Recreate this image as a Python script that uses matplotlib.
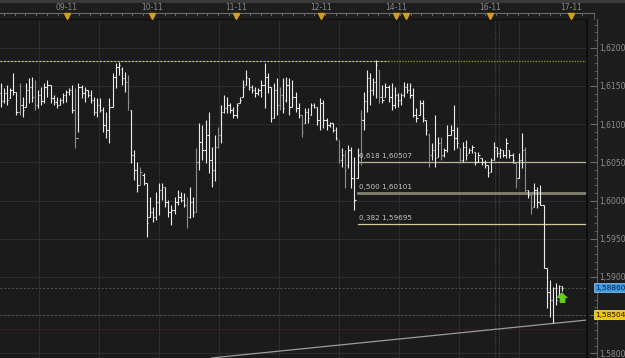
import numpy as np
import matplotlib.pyplot as plt
from matplotlib.collections import LineCollection
from matplotlib.lines import Line2D
from matplotlib.patches import Rectangle
from matplotlib.ticker import MultipleLocator, FuncFormatter
import matplotlib.transforms as mtrans

# OHLC bars (left to right)
high = [1.6154, 1.6147, 1.6151, 1.6147, 1.6167, 1.6142, 1.6154, 1.6135, 1.6154, 1.6160,
        1.6162, 1.6158, 1.6145, 1.6149, 1.6154, 1.6158, 1.6151, 1.6138, 1.6135, 1.6134,
        1.6141, 1.6145, 1.6147, 1.6151, 1.6147, 1.6154, 1.6151, 1.6149, 1.6145, 1.6145,
        1.6135, 1.6134, 1.6134, 1.6122, 1.6116, 1.6134, 1.6167, 1.6180, 1.6181, 1.6175,
        1.6168, 1.6164, 1.6118, 1.6066, 1.6050, 1.6044, 1.6036, 1.6023, 1.6004, 1.5991,
        1.6011, 1.6023, 1.6023, 1.6018, 1.6001, 1.5994, 1.6004, 1.6014, 1.6011, 1.6010,
        1.6004, 1.6018, 1.6004, 1.6069, 1.6101, 1.6099, 1.6105, 1.6116, 1.6070, 1.6086,
        1.6096, 1.6125, 1.6138, 1.6135, 1.6128, 1.6122, 1.6128, 1.6135, 1.6158, 1.6171,
        1.6160, 1.6151, 1.6149, 1.6147, 1.6158, 1.6180, 1.6167, 1.6149, 1.6154, 1.6160,
        1.6149, 1.6160, 1.6162, 1.6160, 1.6158, 1.6142, 1.6128, 1.6112, 1.6121, 1.6121,
        1.6128, 1.6128, 1.6122, 1.6134, 1.6132, 1.6108, 1.6103, 1.6101, 1.6096, 1.6079,
        1.6069, 1.6066, 1.6073, 1.6070, 1.6057, 1.6069, 1.6118, 1.6142, 1.6171, 1.6167,
        1.6160, 1.6184, 1.6171, 1.6151, 1.6154, 1.6151, 1.6154, 1.6149, 1.6141, 1.6141,
        1.6155, 1.6154, 1.6154, 1.6147, 1.6121, 1.6132, 1.6132, 1.6105, 1.6088, 1.6075,
        1.6112, 1.6083, 1.6083, 1.6069, 1.6099, 1.6099, 1.6125, 1.6096, 1.6069, 1.6077,
        1.6079, 1.6069, 1.6073, 1.6063, 1.6063, 1.6056, 1.6053, 1.6046, 1.6056, 1.6077,
        1.6070, 1.6069, 1.6066, 1.6082, 1.6066, 1.6062, 1.6049, 1.6062, 1.6088, 1.6070,
        1.6014, 1.6011, 1.6023, 1.6018, 1.6020, 1.5994, 1.5912, 1.5896, 1.5887, 1.5892,
        1.5889, 1.5888]
low = [1.6122, 1.6128, 1.6125, 1.6134, 1.6138, 1.6112, 1.6112, 1.6109, 1.6122, 1.6128,
       1.6129, 1.6118, 1.6121, 1.6125, 1.6128, 1.6135, 1.6128, 1.6125, 1.6121, 1.6125,
       1.6128, 1.6129, 1.6138, 1.6115, 1.6069, 1.6090, 1.6134, 1.6129, 1.6135, 1.6128,
       1.6112, 1.6109, 1.6116, 1.6090, 1.6082, 1.6075, 1.6122, 1.6147, 1.6164, 1.6151,
       1.6142, 1.6118, 1.6049, 1.6027, 1.6011, 1.6020, 1.6020, 1.5952, 1.5978, 1.5972,
       1.5974, 1.5981, 1.6001, 1.5991, 1.5978, 1.5968, 1.5983, 1.5994, 1.5998, 1.5991,
       1.5964, 1.5977, 1.5978, 1.5985, 1.6040, 1.6053, 1.6049, 1.6036, 1.6018, 1.6025,
       1.6069, 1.6075, 1.6115, 1.6115, 1.6115, 1.6108, 1.6108, 1.6128, 1.6135, 1.6151,
       1.6145, 1.6141, 1.6135, 1.6138, 1.6135, 1.6121, 1.6141, 1.6103, 1.6108, 1.6112,
       1.6118, 1.6115, 1.6129, 1.6112, 1.6122, 1.6116, 1.6108, 1.6083, 1.6101, 1.6101,
       1.6112, 1.6121, 1.6099, 1.6092, 1.6095, 1.6092, 1.6096, 1.6090, 1.6079, 1.6049,
       1.6044, 1.6016, 1.6043, 1.6016, 1.5987, 1.6029, 1.6046, 1.6092, 1.6116, 1.6125,
       1.6138, 1.6134, 1.6128, 1.6128, 1.6135, 1.6129, 1.6118, 1.6121, 1.6122, 1.6125,
       1.6135, 1.6141, 1.6134, 1.6109, 1.6103, 1.6112, 1.6103, 1.6086, 1.6044, 1.6053,
       1.6044, 1.6057, 1.6053, 1.6057, 1.6063, 1.6086, 1.6066, 1.6069, 1.6049, 1.6050,
       1.6053, 1.6062, 1.6062, 1.6046, 1.6050, 1.6046, 1.6043, 1.6031, 1.6037, 1.6053,
       1.6057, 1.6056, 1.6057, 1.6056, 1.6056, 1.6049, 1.6016, 1.6029, 1.6043, 1.6011,
       1.6003, 1.5983, 1.5991, 1.5990, 1.5994, 1.5912, 1.5859, 1.5847, 1.5840, 1.5863,
       1.5876, 1.5881]
opn = [1.6141, 1.6130, 1.6141, 1.6134, 1.6145, 1.6142, 1.6116, 1.6125, 1.6122, 1.6145,
       1.6149, 1.6135, 1.6125, 1.6138, 1.6130, 1.6149, 1.6151, 1.6134, 1.6129, 1.6125,
       1.6132, 1.6138, 1.6142, 1.6145, 1.6118, 1.6082, 1.6149, 1.6141, 1.6145, 1.6138,
       1.6132, 1.6116, 1.6125, 1.6118, 1.6099, 1.6092, 1.6122, 1.6162, 1.6175, 1.6172,
       1.6160, 1.6155, 1.6118, 1.6060, 1.6040, 1.6020, 1.6033, 1.6023, 1.5978, 1.5985,
       1.5978, 1.5998, 1.6014, 1.6018, 1.5998, 1.5985, 1.5987, 1.5998, 1.6004, 1.6001,
       1.5994, 1.5978, 1.5998, 1.5985, 1.6050, 1.6077, 1.6066, 1.6086, 1.6053, 1.6040,
       1.6070, 1.6086, 1.6116, 1.6121, 1.6125, 1.6118, 1.6112, 1.6128, 1.6135, 1.6151,
       1.6160, 1.6149, 1.6145, 1.6141, 1.6145, 1.6151, 1.6162, 1.6149, 1.6108, 1.6145,
       1.6125, 1.6138, 1.6132, 1.6151, 1.6122, 1.6135, 1.6121, 1.6112, 1.6101, 1.6116,
       1.6112, 1.6125, 1.6122, 1.6105, 1.6128, 1.6105, 1.6099, 1.6101, 1.6092, 1.6079,
       1.6053, 1.6060, 1.6046, 1.6066, 1.6030, 1.6029, 1.6060, 1.6105, 1.6130, 1.6160,
       1.6145, 1.6155, 1.6171, 1.6135, 1.6135, 1.6149, 1.6135, 1.6125, 1.6138, 1.6132,
       1.6138, 1.6149, 1.6145, 1.6138, 1.6112, 1.6112, 1.6128, 1.6105, 1.6086, 1.6060,
       1.6066, 1.6057, 1.6075, 1.6060, 1.6066, 1.6086, 1.6092, 1.6082, 1.6069, 1.6053,
       1.6070, 1.6062, 1.6066, 1.6063, 1.6050, 1.6056, 1.6050, 1.6046, 1.6037, 1.6053,
       1.6070, 1.6062, 1.6066, 1.6060, 1.6066, 1.6060, 1.6049, 1.6030, 1.6053, 1.6066,
       1.6014, 1.6007, 1.5991, 1.6014, 1.5998, 1.5994, 1.5912, 1.5880, 1.5870, 1.5885,
       1.5876, 1.5888]
close = [1.6130, 1.6141, 1.6132, 1.6145, 1.6142, 1.6116, 1.6125, 1.6118, 1.6145, 1.6149,
         1.6135, 1.6125, 1.6138, 1.6130, 1.6149, 1.6151, 1.6134, 1.6129, 1.6125, 1.6132,
         1.6138, 1.6142, 1.6145, 1.6118, 1.6082, 1.6149, 1.6141, 1.6145, 1.6138, 1.6132,
         1.6116, 1.6125, 1.6118, 1.6099, 1.6092, 1.6122, 1.6162, 1.6175, 1.6177, 1.6160,
         1.6155, 1.6129, 1.6060, 1.6040, 1.6020, 1.6037, 1.6023, 1.5970, 1.5985, 1.5978,
         1.5998, 1.6014, 1.6018, 1.5998, 1.5985, 1.5987, 1.5998, 1.6004, 1.6001, 1.5994,
         1.5978, 1.5998, 1.5985, 1.6050, 1.6077, 1.6066, 1.6086, 1.6053, 1.6040, 1.6070,
         1.6086, 1.6116, 1.6121, 1.6125, 1.6118, 1.6112, 1.6125, 1.6132, 1.6149, 1.6162,
         1.6149, 1.6145, 1.6141, 1.6145, 1.6151, 1.6162, 1.6149, 1.6108, 1.6145, 1.6125,
         1.6138, 1.6121, 1.6151, 1.6122, 1.6135, 1.6121, 1.6112, 1.6090, 1.6116, 1.6108,
         1.6125, 1.6122, 1.6105, 1.6128, 1.6105, 1.6099, 1.6101, 1.6092, 1.6082, 1.6053,
         1.6060, 1.6040, 1.6066, 1.6030, 1.6001, 1.6060, 1.6105, 1.6130, 1.6160, 1.6145,
         1.6155, 1.6177, 1.6135, 1.6132, 1.6149, 1.6135, 1.6125, 1.6138, 1.6132, 1.6138,
         1.6149, 1.6145, 1.6138, 1.6112, 1.6108, 1.6128, 1.6108, 1.6092, 1.6060, 1.6066,
         1.6056, 1.6075, 1.6060, 1.6066, 1.6086, 1.6092, 1.6082, 1.6075, 1.6053, 1.6070,
         1.6060, 1.6066, 1.6070, 1.6050, 1.6060, 1.6050, 1.6046, 1.6036, 1.6053, 1.6070,
         1.6062, 1.6066, 1.6060, 1.6075, 1.6060, 1.6053, 1.6030, 1.6053, 1.6066, 1.6014,
         1.6007, 1.5990, 1.6014, 1.5998, 1.5994, 1.5912, 1.5880, 1.5870, 1.5885, 1.5870,
         1.5888, 1.5886]
# bars drawn in the dimmer grey
dim_bars = [6, 11, 24, 41, 45, 60, 63, 70, 90, 97, 109, 111, 116, 122, 138, 142, 148,
            166, 169, 171]

day_labels = ["09-11", "10-11", "11-11", "12-11", "14-11", "16-11", "17-11"]
day_pos = [21.3, 48.7, 75.8, 103.2, 127.4, 157.7, 183.9]
extra_marker = [130.6]

fib_ratio = ["0,618", "0,500", "0,382"]
fib_price = [1.60507, 1.60101, 1.59695]
fib_start = 115

swing_high = 1.6182
swing_break = 124.8
last_price = 1.5886
order_price = 1.58504
red_price = 1.5832
trend_x = [68, 189]
trend_y = [1.5794, 1.58436]
signal_bar = 181
signal_price = 1.5874

W, H = 625, 358
BG = '#1d1d1d'
fig = plt.figure(figsize=(W / 100, H / 100), dpi=100, facecolor=BG)
ax = fig.add_axes([0, 0, 587 / W, 339 / H])
ax.set_facecolor('#1b1b1b')
XMAX = 189
ax.set_xlim(-0.3, XMAX)
ax.set_ylim(1.57939, 1.62376)

# grid
for gy in np.arange(1.580, 1.6201, 0.005):
    ax.axhline(gy, color='#2d2d2d', lw=0.8, zorder=0)
for gx in np.arange(12.3, 180, 19.35):
    ax.axvline(gx, color='#2d2d2d', lw=0.8, zorder=0)
for vx in [159.4, 160.6]:
    ax.axvline(vx, color='#4a4a4a', lw=0.7, ls=(0, (1, 1.5)), zorder=1)

# dashed price levels
ax.axhline(last_price, color='#545454', lw=0.7, ls=(0, (2, 2)), zorder=1)
ax.axhline(order_price, color='#545454', lw=0.7, ls=(0, (2, 2)), zorder=1)
ax.axhline(red_price, color='#4a2626', lw=0.7, ls=(0, (2, 2)), zorder=1)
# swing-high line: yellow dashes over a bluish base, then olive dots
ax.plot([-0.3, swing_break], [swing_high] * 2, color='#50509a', lw=0.8, zorder=2)
ax.plot([-0.3, swing_break], [swing_high] * 2, color='#d2d24a', lw=0.8,
        ls=(0, (1.6, 1.6)), zorder=2)
ax.plot([swing_break, XMAX], [swing_high] * 2, color='#8c8a26', lw=1.0,
        ls=(0, (1, 1)), zorder=2)

# fibonacci levels
fib_style = [('#bdb597', 0.9), ('#85826c', 2.0), ('#d6cb9a', 0.9)]
for r, p, (c, w) in zip(fib_ratio, fib_price, fib_style):
    ax.plot([fib_start, XMAX], [p, p], color=c, lw=w, zorder=2)
    ax.annotate(f"{r} {p:.5f}".replace('.', ','), xy=(fib_start, p), xytext=(1, 2),
                textcoords='offset points', fontsize=5.2, color='#c4c4c4',
                va='bottom', ha='left', zorder=4)

# trend line
ax.plot(trend_x, trend_y, color='#9c9c9c', lw=0.9, zorder=2)

# OHLC bars
xs = np.arange(len(high))
tk = 0.42
segs, cols = [], []
for i in xs:
    c = '#8e8e8e' if i in dim_bars else '#ececec'
    segs += [[(i, low[i]), (i, high[i])],
             [(i - tk, opn[i]), (i, opn[i])],
             [(i, close[i]), (i + tk, close[i])]]
    cols += [c] * 3
ax.add_collection(LineCollection(segs, colors=cols, linewidths=0.8, zorder=3))

# green signal arrow
arrow = [(0, 1), (-1, 0), (-0.45, 0), (-0.45, -1), (0.45, -1), (0.45, 0), (1, 0)]
ax.plot(signal_bar, signal_price, marker=arrow, ms=7, color='#66cc22',
        mec='#66cc22', zorder=5)


def price_fmt(v, pos):
    # the 1,5850 label sits under the order box
    if abs(v - 1.585) < 1e-6:
        return ''
    return f"{v:.4f}".replace('.', ',')


# right price axis
for s in ['top', 'left', 'bottom']:
    ax.spines[s].set_visible(False)
ax.spines['right'].set_position(('outward', 7))
ax.spines['right'].set_color('#5e5e5e')
ax.spines['right'].set_linewidth(0.8)
ax.xaxis.set_visible(False)
ax.yaxis.tick_right()
ax.yaxis.set_major_locator(MultipleLocator(0.005))
ax.yaxis.set_minor_locator(MultipleLocator(0.001))
ax.yaxis.set_major_formatter(FuncFormatter(price_fmt))
ax.tick_params(axis='y', which='major', direction='in', length=5, width=0.8,
               color='#6a6a6a', labelsize=5.5, labelcolor='#8e8e8e', pad=1.5)
ax.tick_params(axis='y', which='minor', direction='in', length=2.5, width=0.7,
               color='#5a5a5a')

# price boxes on the axis
yblend = mtrans.blended_transform_factory(fig.transFigure, ax.transData)
ax.text(595 / W, last_price, f"{last_price:.5f}".replace('.', ','), transform=yblend,
        fontsize=5.3, color='#0e2448', va='center', ha='left', zorder=6,
        bbox=dict(boxstyle='square,pad=0.2', fc='#3f9be6', ec='#9cc8f0', lw=0.5))
ax.text(595 / W, order_price, f"{order_price:.5f}".replace('.', ','), transform=yblend,
        fontsize=5.3, color='#1a1400', va='center', ha='left', zorder=6,
        bbox=dict(boxstyle='square,pad=0.2', fc='#f0c400', ec='#fff080', lw=0.5))

# plot frame lines
fig.add_artist(Line2D([587 / W] * 2, [0, 339 / H], transform=fig.transFigure,
                      color='#0c0c0c', lw=1.2))
fig.add_artist(Line2D([0, 587 / W], [339 / H] * 2, transform=fig.transFigure,
                      color='#111111', lw=1.0))

# time ruler on top
fig.add_artist(Rectangle((0, 1 - 2.5 / H), 1, 2.5 / H, transform=fig.transFigure,
                         color='#3a3a3a', lw=0))
ry = 1 - 12.5 / H
fig.add_artist(Line2D([0, 594 / W], [ry, ry], transform=fig.transFigure,
                      color='#6a6a6a', lw=0.8))
fig.add_artist(Line2D([594 / W] * 2, [ry, 339 / H], transform=fig.transFigure,
                      color='#5e5e5e', lw=0.8))
xblend = mtrans.blended_transform_factory(ax.transData, fig.transFigure)
for tx in np.arange(1.0, XMAX, 3.45):
    fig.add_artist(Line2D([tx, tx], [ry, ry - 2.5 / H], transform=xblend,
                          color='#6a6a6a', lw=0.7))
for lbl, pos in zip(day_labels, day_pos):
    fig.text(pos, 1 - 7 / H, lbl, transform=xblend, fontsize=5.5, color='#8a8a8a',
             ha='center', va='center')
for pos in day_pos + extra_marker:
    fig.add_artist(Line2D([pos], [1 - 15.5 / H], transform=xblend, marker='v',
                          ms=4.5, color='#d2a01a', mec='#d2a01a'))

fig.savefig('out.png', dpi=100, facecolor=BG)
